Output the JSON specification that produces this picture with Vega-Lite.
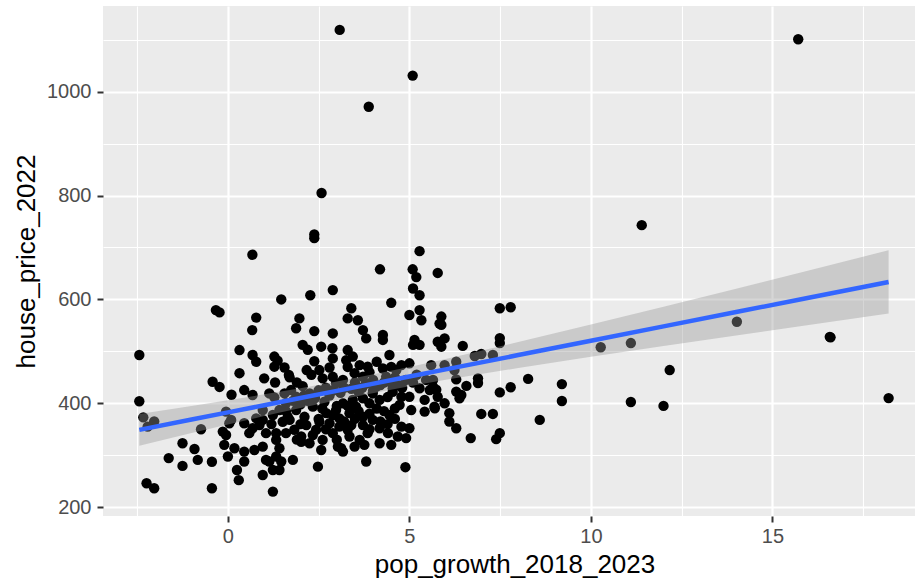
{
  "$schema": "https://vega.github.io/schema/vega-lite/v6.json",
  "width": 823,
  "height": 510,
  "autosize": {"type": "none"},
  "padding": {"left": 103, "top": 6, "right": -11, "bottom": 64},
  "background": "white",
  "config": {
    "view": {"fill": "#EBEBEB", "stroke": null},
    "axis": {
      "domain": false,
      "gridColor": "white",
      "tickColor": "#333333",
      "tickWidth": 2,
      "tickSize": 6,
      "labelColor": "#4D4D4D",
      "labelFont": "Liberation Sans",
      "labelFontSize": 20,
      "labelOverlap": false,
      "labelFlush": false,
      "labelBound": false,
      "titleFont": "Liberation Sans",
      "titleFontSize": 26,
      "titleFontWeight": "normal",
      "titleColor": "black"
    }
  },
  "datasets": {
    "points": [
      {"growth": 3.08, "price": 1119}, {"growth": 5.09, "price": 1031}, {"growth": 3.88, "price": 971}, {"growth": 2.58, "price": 805},
      {"growth": 2.38, "price": 718}, {"growth": 2.38, "price": 725}, {"growth": 0.675, "price": 686}, {"growth": 5.28, "price": 693},
      {"growth": 4.19, "price": 658}, {"growth": 5.09, "price": 658}, {"growth": 5.19, "price": 643}, {"growth": 5.78, "price": 651},
      {"growth": 2.89, "price": 618}, {"growth": 5.1, "price": 621}, {"growth": 5.28, "price": 608}, {"growth": 15.71, "price": 1101},
      {"growth": 11.4, "price": 743}, {"growth": 10.27, "price": 508}, {"growth": 11.1, "price": 516}, {"growth": 11.1, "price": 402.5},
      {"growth": 12.0, "price": 395}, {"growth": 12.17, "price": 464}, {"growth": 14.02, "price": 557}, {"growth": 16.58, "price": 528},
      {"growth": 16.6, "price": 527}, {"growth": 18.2, "price": 410}, {"growth": 9.2, "price": 437}, {"growth": 9.2, "price": 404.5},
      {"growth": 8.59, "price": 368}, {"growth": 8.27, "price": 447},
      {"growth": 7.49, "price": 583}, {"growth": 7.79, "price": 585}, {"growth": 7.49, "price": 525.5}, {"growth": 7.49, "price": 516},
      {"growth": 7.79, "price": 431}, {"growth": 7.49, "price": 421},
      {"growth": 5.88, "price": 567}, {"growth": 5.88, "price": 551}, {"growth": 5.78, "price": 518.5}, {"growth": 5.97, "price": 525},
      {"growth": 5.88, "price": 509}, {"growth": 6.47, "price": 510.5}, {"growth": 5.6, "price": 473.5}, {"growth": 5.97, "price": 473.5},
      {"growth": 6.29, "price": 480}, {"growth": 6.24, "price": 464}, {"growth": 6.8, "price": 491}, {"growth": 6.98, "price": 495},
      {"growth": 7.3, "price": 493}, {"growth": 6.89, "price": 448}, {"growth": 6.89, "price": 439}, {"growth": 6.29, "price": 446},
      {"growth": 6.57, "price": 433.5}, {"growth": 5.65, "price": 445}, {"growth": 5.65, "price": 432}, {"growth": 5.74, "price": 426},
      {"growth": 6.29, "price": 422.5}, {"growth": 6.43, "price": 416}, {"growth": 5.78, "price": 412.5},
      {"growth": 5.7, "price": 390.5}, {"growth": 5.97, "price": 400}, {"growth": 6.1, "price": 381}, {"growth": 6.1, "price": 365},
      {"growth": 6.29, "price": 352}, {"growth": 6.38, "price": 409.5}, {"growth": 6.98, "price": 379.5}, {"growth": 7.3, "price": 379.5},
      {"growth": 7.49, "price": 342.5}, {"growth": 7.39, "price": 331}, {"growth": 6.69, "price": 333},
      {"growth": -0.33, "price": 579.5}, {"growth": -0.23, "price": 575}, {"growth": -2.44, "price": 493}, {"growth": -0.42, "price": 441.5},
      {"growth": -0.23, "price": 431.5}, {"growth": 0.32, "price": 502.5}, {"growth": 0.32, "price": 458},
      {"growth": 0.1, "price": 416.5},
      {"growth": -2.44, "price": 404}, {"growth": -2.33, "price": 373}, {"growth": -2.03, "price": 365}, {"growth": -2.21, "price": 355},
      {"growth": -0.74, "price": 350}, {"growth": -1.25, "price": 323}, {"growth": -0.92, "price": 312}, {"growth": -1.63, "price": 294.5},
      {"growth": -1.25, "price": 279.5}, {"growth": -0.83, "price": 291}, {"growth": -0.44, "price": 287.5}, {"growth": -2.24, "price": 246},
      {"growth": -2.03, "price": 236.5}, {"growth": -0.44, "price": 236.5}, {"growth": -0.05, "price": 384}, {"growth": 0.09, "price": 368},
      {"growth": 0.04, "price": 361.5}, {"growth": -0.14, "price": 345.5}, {"growth": -0.05, "price": 339}, {"growth": -0.1, "price": 320},
      {"growth": 0.18, "price": 313.5}, {"growth": 0.0, "price": 297.5}, {"growth": 0.25, "price": 271.5}, {"growth": 0.3, "price": 252},
      {"growth": 1.47, "price": 600}, {"growth": 2.27, "price": 608}, {"growth": 0.78, "price": 565}, {"growth": 0.67, "price": 541},
      {"growth": 1.97, "price": 563.5}, {"growth": 1.88, "price": 544.5}, {"growth": 2.38, "price": 539}, {"growth": 2.89, "price": 534.5},
      {"growth": 0.68, "price": 493}, {"growth": 0.78, "price": 480}, {"growth": 1.28, "price": 490}, {"growth": 1.37, "price": 482},
      {"growth": 1.28, "price": 470.5}, {"growth": 1.56, "price": 469}, {"growth": 1.68, "price": 454.5}, {"growth": 2.06, "price": 512.5},
      {"growth": 2.2, "price": 503}, {"growth": 2.57, "price": 509}, {"growth": 2.88, "price": 506}, {"growth": 2.38, "price": 481},
      {"growth": 2.17, "price": 464}, {"growth": 2.52, "price": 464}, {"growth": 2.8, "price": 469}, {"growth": 2.61, "price": 448},
      {"growth": 0.45, "price": 425.5}, {"growth": 0.68, "price": 416}, {"growth": 1.74, "price": 425.5}, {"growth": 2.06, "price": 433},
      {"growth": 1.28, "price": 411.5},
      {"growth": 0.45, "price": 361.5}, {"growth": 0.68, "price": 352}, {"growth": 0.59, "price": 342.5}, {"growth": 0.96, "price": 368},
      {"growth": 0.87, "price": 358}, {"growth": 1.05, "price": 342.5}, {"growth": 1.33, "price": 342.5}, {"growth": 1.51, "price": 364.5},
      {"growth": 1.7, "price": 368}, {"growth": 1.88, "price": 387}, {"growth": 2.11, "price": 374}, {"growth": 2.16, "price": 358},
      {"growth": 2.43, "price": 349}, {"growth": 2.52, "price": 364.5}, {"growth": 2.71, "price": 381}, {"growth": 2.98, "price": 387},
      {"growth": 2.8, "price": 361.5}, {"growth": 2.61, "price": 329.5}, {"growth": 2.57, "price": 310}, {"growth": 3.03, "price": 316.5},
      {"growth": 0.45, "price": 307}, {"growth": 0.73, "price": 310}, {"growth": 0.96, "price": 316.5}, {"growth": 1.33, "price": 329.5},
      {"growth": 1.42, "price": 313.5}, {"growth": 1.33, "price": 297.5}, {"growth": 1.14, "price": 288}, {"growth": 1.47, "price": 288},
      {"growth": 1.79, "price": 291}, {"growth": 2.02, "price": 326}, {"growth": 0.45, "price": 288}, {"growth": 0.96, "price": 262},
      {"growth": 1.24, "price": 271.5}, {"growth": 1.42, "price": 271.5}, {"growth": 1.24, "price": 230}, {"growth": 2.48, "price": 278},
      {"growth": 1.05, "price": 291}, {"growth": 1.6, "price": 342.5}, {"growth": 1.83, "price": 349}, {"growth": 2.02, "price": 336},
      {"growth": 2.25, "price": 323}, {"growth": 2.34, "price": 339}, {"growth": 1.24, "price": 377.5}, {"growth": 1.42, "price": 387},
      {"growth": 1.65, "price": 374}, {"growth": 1.88, "price": 412.5}, {"growth": 2.34, "price": 393.5}, {"growth": 2.66, "price": 403},
      {"growth": 2.25, "price": 419}, {"growth": 1.14, "price": 419}, {"growth": 0.96, "price": 387}, {"growth": 0.78, "price": 371},
      {"growth": 1.56, "price": 419},
      {"growth": 3.4, "price": 583}, {"growth": 4.5, "price": 593.5}, {"growth": 3.3, "price": 563.5}, {"growth": 3.58, "price": 560},
      {"growth": 5.0, "price": 570}, {"growth": 5.28, "price": 579.5}, {"growth": 5.33, "price": 560}, {"growth": 3.72, "price": 541},
      {"growth": 3.81, "price": 525}, {"growth": 4.27, "price": 531.5}, {"growth": 4.27, "price": 522}, {"growth": 5.14, "price": 522},
      {"growth": 5.28, "price": 512.5}, {"growth": 5.1, "price": 512.5}, {"growth": 5.83, "price": 553.5}, {"growth": 2.89, "price": 486.5},
      {"growth": 3.3, "price": 502.5}, {"growth": 3.44, "price": 490}, {"growth": 3.26, "price": 483}, {"growth": 3.63, "price": 473.5},
      {"growth": 3.85, "price": 470.5}, {"growth": 4.45, "price": 493}, {"growth": 4.78, "price": 473.5}, {"growth": 5.0, "price": 477},
      {"growth": 2.89, "price": 451}, {"growth": 2.98, "price": 438.5}, {"growth": 3.49, "price": 458}, {"growth": 3.72, "price": 451},
      {"growth": 4.27, "price": 467}, {"growth": 4.36, "price": 451}, {"growth": 4.64, "price": 464}, {"growth": 5.46, "price": 445},
      {"growth": 4.09, "price": 432}, {"growth": 4.54, "price": 429}, {"growth": 5.28, "price": 429}, {"growth": 3.17, "price": 445},
      {"growth": 2.89, "price": 377.5}, {"growth": 3.07, "price": 371}, {"growth": 3.35, "price": 381}, {"growth": 3.53, "price": 393.5},
      {"growth": 3.17, "price": 400}, {"growth": 3.44, "price": 406.5}, {"growth": 3.72, "price": 409.5}, {"growth": 3.9, "price": 400},
      {"growth": 3.99, "price": 419}, {"growth": 4.18, "price": 406.5}, {"growth": 4.54, "price": 422}, {"growth": 4.78, "price": 412.5},
      {"growth": 5.0, "price": 412.5}, {"growth": 4.73, "price": 397}, {"growth": 5.05, "price": 387}, {"growth": 5.42, "price": 406.5},
      {"growth": 5.42, "price": 384}, {"growth": 5.69, "price": 393.5}, {"growth": 5.56, "price": 425.5}, {"growth": 4.45, "price": 377.5},
      {"growth": 3.72, "price": 374}, {"growth": 3.72, "price": 358}, {"growth": 3.99, "price": 368}, {"growth": 4.18, "price": 352},
      {"growth": 4.41, "price": 342.5}, {"growth": 4.78, "price": 355}, {"growth": 5.0, "price": 352}, {"growth": 4.68, "price": 336},
      {"growth": 4.91, "price": 333}, {"growth": 3.35, "price": 336}, {"growth": 3.63, "price": 329.5}, {"growth": 3.76, "price": 320},
      {"growth": 3.49, "price": 316.5}, {"growth": 3.12, "price": 313.5}, {"growth": 3.17, "price": 307}, {"growth": 4.18, "price": 323},
      {"growth": 3.81, "price": 288}, {"growth": 4.89, "price": 277}, {"growth": 3.85, "price": 342.5}, {"growth": 2.89, "price": 342.5},
      {"growth": 3.07, "price": 355}, {"growth": 3.4, "price": 358}, {"growth": 3.3, "price": 349},
      {"growth": 1.6, "price": 400}, {"growth": 2.0, "price": 398}, {"growth": 2.5, "price": 425}, {"growth": 2.8, "price": 415},
      {"growth": 3.2, "price": 430}, {"growth": 3.5, "price": 440}, {"growth": 3.8, "price": 438}, {"growth": 4.0, "price": 445},
      {"growth": 4.3, "price": 440}, {"growth": 4.6, "price": 450}, {"growth": 4.9, "price": 445}, {"growth": 3.0, "price": 395},
      {"growth": 2.2, "price": 405}, {"growth": 1.9, "price": 440}, {"growth": 2.9, "price": 425}, {"growth": 3.6, "price": 422},
      {"growth": 4.1, "price": 390}, {"growth": 4.4, "price": 412}, {"growth": 2.6, "price": 390}, {"growth": 1.3, "price": 440},
      {"growth": 1.0, "price": 448}, {"growth": 1.7, "price": 450}, {"growth": 2.3, "price": 455}, {"growth": 3.9, "price": 460},
      {"growth": 4.8, "price": 430}, {"growth": 5.2, "price": 455}, {"growth": 5.1, "price": 440}, {"growth": 3.3, "price": 470},
      {"growth": 4.1, "price": 480}, {"growth": 4.5, "price": 470},
      {"growth": 1.8, "price": 405}, {"growth": 2.1, "price": 415}, {"growth": 2.4, "price": 410}, {"growth": 2.7, "price": 430},
      {"growth": 3.1, "price": 420}, {"growth": 3.4, "price": 428}, {"growth": 3.7, "price": 430}, {"growth": 4.0, "price": 425},
      {"growth": 4.2, "price": 435}, {"growth": 4.5, "price": 440}, {"growth": 4.7, "price": 435}, {"growth": 3.3, "price": 395},
      {"growth": 3.6, "price": 385}, {"growth": 3.9, "price": 380}, {"growth": 4.3, "price": 385}, {"growth": 4.6, "price": 390},
      {"growth": 2.5, "price": 370}, {"growth": 3.2, "price": 365}, {"growth": 3.5, "price": 370}, {"growth": 4.2, "price": 365},
      {"growth": 4.6, "price": 370}, {"growth": 2.0, "price": 360}, {"growth": 1.6, "price": 385}, {"growth": 2.7, "price": 350},
      {"growth": 3.9, "price": 350}, {"growth": 4.4, "price": 360}, {"growth": 1.2, "price": 360}, {"growth": 1.9, "price": 330},
      {"growth": 3.0, "price": 330}, {"growth": 4.5, "price": 320}
    ],
    "fit": [
      {"growth": -2.44, "fit": 348.8, "lo": 318.3, "hi": 379.3},
      {"growth": -1, "fit": 368.7, "lo": 342.7, "hi": 394.7},
      {"growth": 0, "fit": 382.5, "lo": 359.2, "hi": 405.8},
      {"growth": 1, "fit": 396.3, "lo": 375.4, "hi": 417.2},
      {"growth": 2, "fit": 410.1, "lo": 391.0, "hi": 429.2},
      {"growth": 3, "fit": 423.9, "lo": 405.8, "hi": 442.0},
      {"growth": 3.7, "fit": 433.6, "lo": 415.7, "hi": 451.5},
      {"growth": 5, "fit": 451.5, "lo": 432.9, "hi": 470.1},
      {"growth": 6, "fit": 465.3, "lo": 445.2, "hi": 485.4},
      {"growth": 8, "fit": 492.9, "lo": 468.0, "hi": 517.8},
      {"growth": 10, "fit": 520.5, "lo": 489.5, "hi": 551.5},
      {"growth": 12, "fit": 548.1, "lo": 510.2, "hi": 586.0},
      {"growth": 14, "fit": 575.7, "lo": 530.6, "hi": 620.8},
      {"growth": 16, "fit": 603.3, "lo": 550.7, "hi": 655.9},
      {"growth": 18.2, "fit": 633.7, "lo": 572.7, "hi": 694.7}
    ]
  },
  "encoding": {
    "x": {
      "field": "growth",
      "type": "quantitative",
      "title": "pop_growth_2018_2023",
      "scale": {"domain": [-3.44, 19.23], "nice": false, "zero": false},
      "axis": {
        "values": [-2.5, 0, 2.5, 5, 7.5, 10, 12.5, 15, 17.5],
        "labelExpr": "datum.value % 5 === 0 ? format(datum.value, 'd') : ''",
        "gridWidth": {"condition": {"test": "datum.value % 5 !== 0", "value": 1.1}, "value": 2.2},
        "tickOpacity": {"condition": {"test": "datum.value % 5 !== 0", "value": 0}, "value": 1},
        "labelPadding": 4,
        "titlePadding": 5
      }
    }
  },
  "layer": [
    {
      "data": {"name": "points"},
      "mark": {"type": "circle", "size": 108, "color": "black", "opacity": 1},
      "encoding": {
        "y": {
          "field": "price",
          "type": "quantitative",
          "title": "house_price_2022",
          "scale": {"domain": [183, 1165], "nice": false, "zero": false},
          "axis": {
            "values": [200, 300, 400, 500, 600, 700, 800, 900, 1000, 1100],
            "labelExpr": "datum.value % 200 === 0 ? format(datum.value, 'd') : ''",
            "gridWidth": {"condition": {"test": "datum.value % 200 !== 0", "value": 1.1}, "value": 2.2},
            "tickOpacity": {"condition": {"test": "datum.value % 200 !== 0", "value": 0}, "value": 1},
            "labelPadding": 6,
            "titlePadding": 7
          }
        }
      }
    },
    {
      "data": {"name": "fit"},
      "mark": {"type": "area", "color": "#999999", "opacity": 0.4},
      "encoding": {
        "y": {"field": "lo", "type": "quantitative", "title": "house_price_2022"},
        "y2": {"field": "hi"}
      }
    },
    {
      "data": {"name": "fit"},
      "mark": {"type": "line", "color": "#3366FF", "strokeWidth": 4.5},
      "encoding": {
        "y": {"field": "fit", "type": "quantitative", "title": "house_price_2022"}
      }
    }
  ]
}
